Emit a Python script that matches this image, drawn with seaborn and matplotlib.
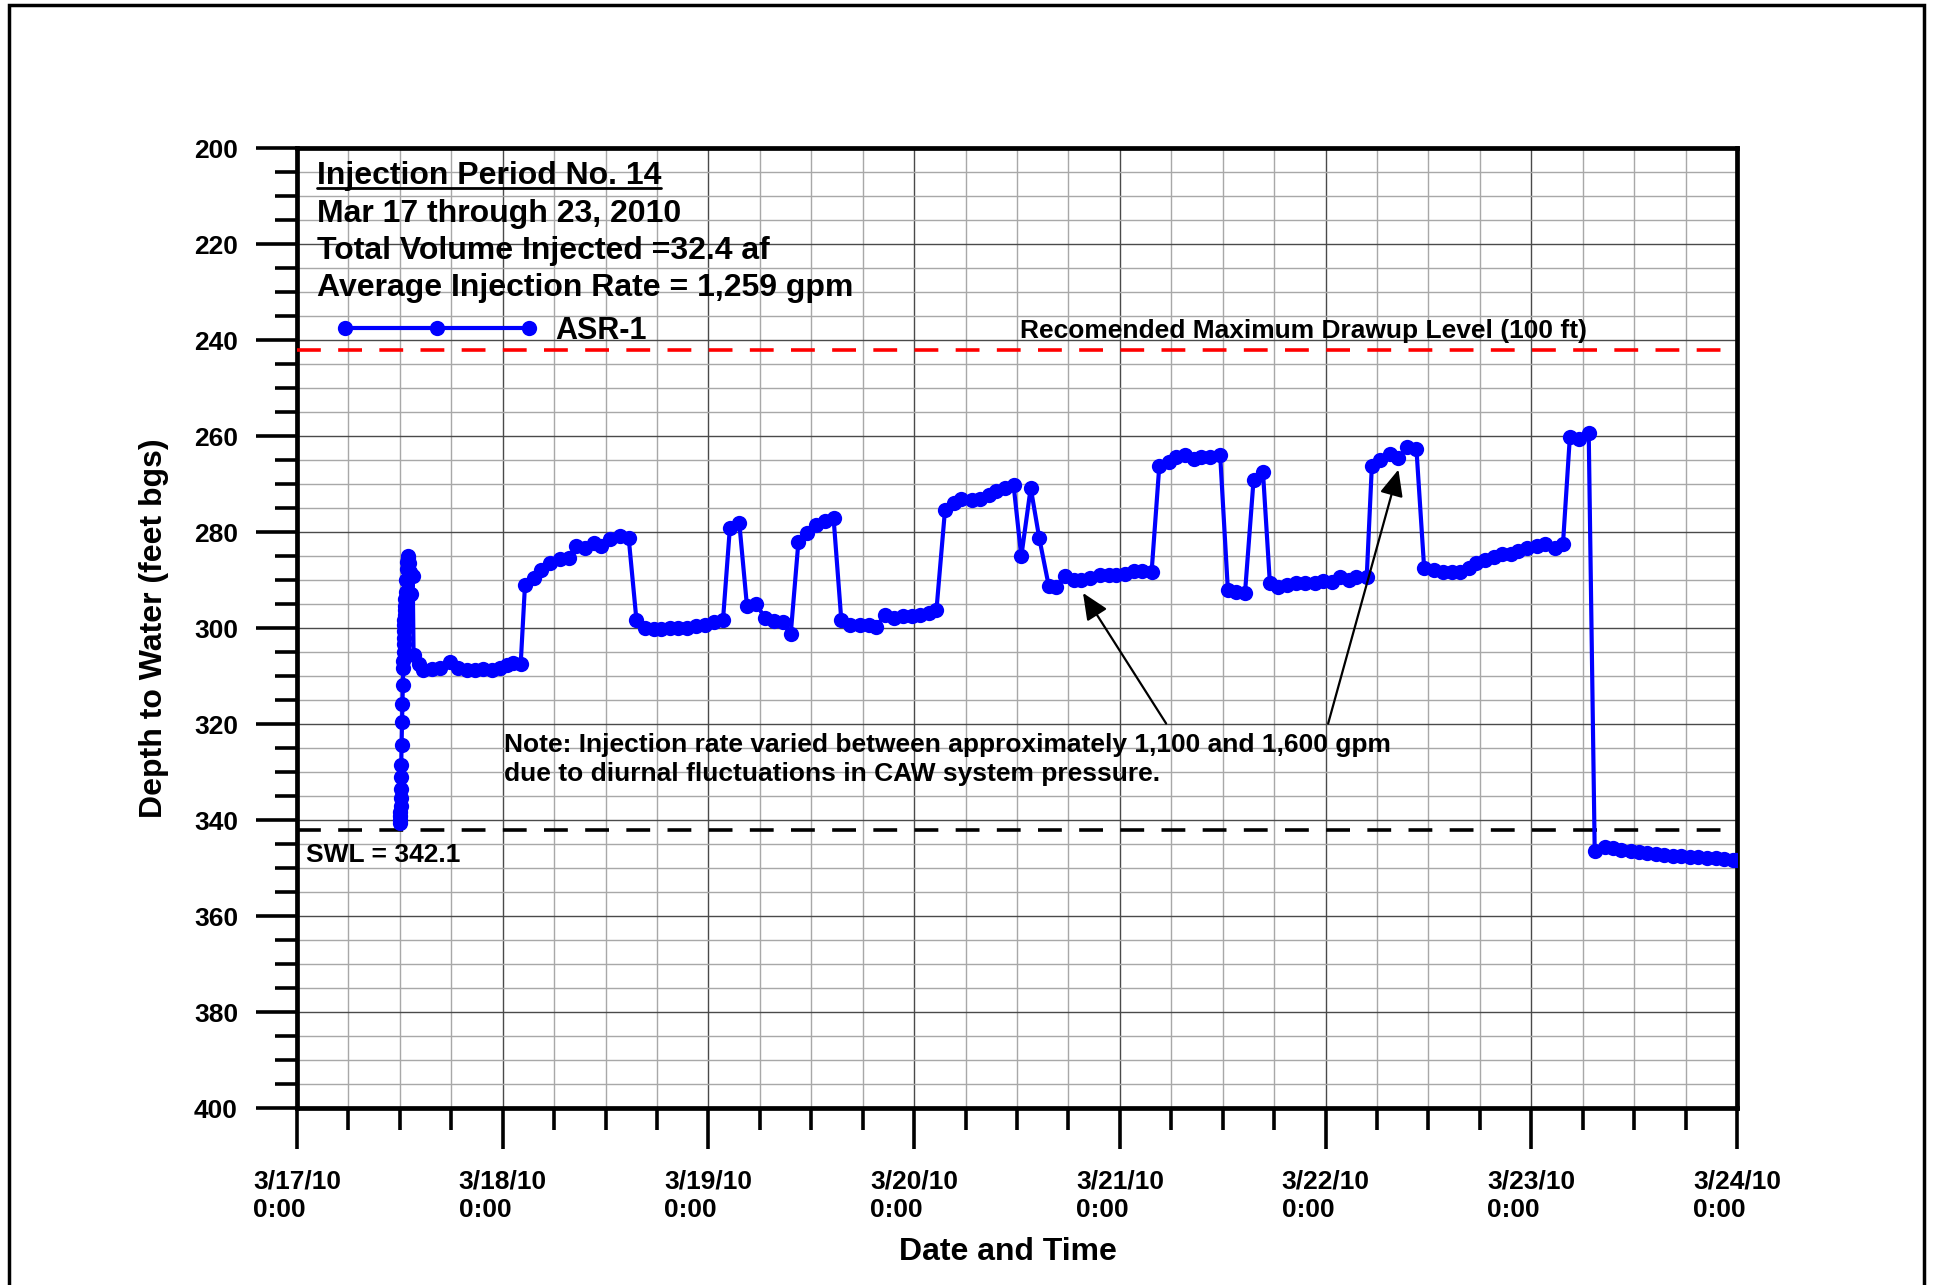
import pandas as pd
import matplotlib
matplotlib.use("Agg")
import matplotlib.pyplot as plt
import matplotlib.dates as mdates
from matplotlib.ticker import MultipleLocator
from matplotlib.lines import Line2D
from matplotlib.patches import Rectangle
import seaborn as sns

# ---------------------------------------------------------------- data
start = pd.Timestamp("2010-03-17 00:00")

# hours after 3/17/10 0:00, one list entry per logged reading
elapsed_hours = [
    12.00, 12.02, 12.04, 12.06, 12.08, 12.10, 12.12, 12.14, 12.16, 12.20,
    12.25, 12.30, 12.35, 12.40, 12.42, 12.44, 12.46, 12.48, 12.50, 12.52,
    12.54, 12.56, 12.58, 12.60, 12.65, 12.70, 12.75, 12.80, 12.85, 12.90,
    12.95, 13.05, 13.20, 13.35, 13.50, 13.60, 14.2,
    14.7, 15.7, 16.7, 17.9, 18.8, 19.8, 20.8, 21.7, 22.7, 23.7, 24.5, 25.2, 26.1,
    26.6, 27.6, 28.5, 29.5, 30.7, 31.7, 32.6, 33.6, 34.6, 35.5, 36.5, 37.7, 38.7,
    39.6, 40.6, 41.6, 42.5, 43.5, 44.5, 45.5, 46.6, 47.6, 48.6, 49.7,
    50.5, 51.6,
    52.5, 53.6, 54.6, 55.6, 56.7, 57.6,
    58.5, 59.5, 60.6, 61.6, 62.6,
    63.5, 64.5, 65.7, 66.7, 67.6, 68.6, 69.6, 70.7, 71.7, 72.7, 73.7, 74.6,
    75.6, 76.6, 77.5, 78.7, 79.7, 80.7, 81.6, 82.6, 83.6,
    84.5, 85.6, 86.6,
    87.7, 88.6, 89.6, 90.6, 91.5, 92.5, 93.7, 94.7, 95.6, 96.6, 97.6, 98.6, 99.7,
    100.6, 101.7, 102.6, 103.6, 104.6, 105.5, 106.5, 107.7,
    108.6, 109.6, 110.6,
    111.6, 112.7,
    113.5, 114.5, 115.5, 116.6, 117.6, 118.8, 119.7, 120.7, 121.7, 122.7, 123.6, 124.8,
    125.4, 126.4, 127.5, 128.5, 129.5, 130.6,
    131.5, 132.6, 133.7, 134.7, 135.7, 136.7, 137.6, 138.6, 139.6, 140.6, 141.6,
    142.5, 143.5, 144.7, 145.6, 146.8, 147.7,
    148.5, 149.6, 150.7,
    151.4, 152.6, 153.5, 154.5, 155.6, 156.6, 157.5, 158.5, 159.5, 160.5, 161.5,
    162.5, 163.5, 164.5, 165.5, 166.5, 167.5, 167.9,
]

# depth to water, feet below ground surface
depth_ft = [
    340.6, 340.0, 339.2, 338.3, 337.0, 335.5, 333.5, 331.0, 328.5, 324.3,
    319.5, 315.8, 311.8, 308.3, 306.8, 305.0, 303.4, 302.0, 300.6, 299.4,
    298.3, 297.3, 296.3, 295.5, 294.0, 292.5, 290.0, 287.8, 286.3, 285.4,
    285.1, 286.4, 288.3, 293.0, 289.2, 305.6, 307.6,
    308.7, 308.6, 308.3, 307.0, 308.3, 308.7, 308.7, 308.6, 308.7, 308.4, 307.8, 307.2, 307.4,
    291.0, 289.6, 287.9, 286.5, 285.6, 285.4, 283.0, 283.3, 282.2, 283.0, 281.5, 280.9, 281.3,
    298.3, 300.0, 300.3, 300.2, 300.0, 300.0, 299.9, 299.6, 299.3, 298.8, 298.3,
    279.2, 278.1,
    295.5, 295.1, 297.9, 298.5, 298.8, 301.3,
    282.0, 280.2, 278.5, 277.8, 277.1,
    298.3, 299.3, 299.4, 299.4, 299.7, 297.2, 297.9, 297.5, 297.6, 297.2, 296.9, 296.3,
    275.4, 274.0, 273.1, 273.3, 273.1, 272.2, 271.5, 270.8, 270.2,
    285.1, 270.8, 281.3,
    291.2, 291.4, 289.2, 290.1, 290.0, 289.5, 288.9, 289.0, 288.9, 288.8, 288.2, 288.1, 288.4,
    266.3, 265.5, 264.4, 263.9, 264.8, 264.3, 264.4, 263.9,
    292.0, 292.4, 292.7,
    269.1, 267.6,
    290.6, 291.4, 291.1, 290.7, 290.7, 290.6, 290.3, 290.5, 289.4, 289.9, 289.3, 289.4,
    266.2, 265.1, 263.7, 264.6, 262.3, 262.7,
    287.5, 288.0, 288.4, 288.4, 288.4, 287.5, 286.5, 285.8, 285.3, 284.5, 284.6,
    283.9, 283.4, 283.0, 282.6, 283.3, 282.4,
    260.2, 260.6, 259.4,
    346.5, 345.6, 345.9, 346.2, 346.5, 346.7, 346.9, 347.1, 347.2, 347.4, 347.5,
    347.7, 347.8, 347.9, 348.0, 348.1, 348.3, 348.4,
]

swl_depth = 342.1                       # static water level
max_drawup_depth = swl_depth - 100.0    # recommended maximum drawup (100 ft)

day_ticks = pd.date_range("2010-03-17", "2010-03-24", freq="D")
tick_labels = ["3/17/10\n0:00", "3/18/10\n0:00", "3/19/10\n0:00", "3/20/10\n0:00",
               "3/21/10\n0:00", "3/22/10\n0:00", "3/23/10\n0:00", "3/24/10\n0:00"]

info_lines = ["Injection Period No. 14",
              "Mar 17 through 23, 2010",
              "Total Volume Injected =32.4 af",
              "Average Injection Rate = 1,259 gpm"]
note_lines = ["Note: Injection rate varied between approximately 1,100 and 1,600 gpm",
              "due to diurnal fluctuations in CAW system pressure."]
# points the note arrows refer to (hours after start, depth) and where they leave the note
arrow_heads = [(91.7, 292.7), (128.5, 267.0)]
arrow_tails = [(101.4, 319.9), (120.3, 319.9)]

# ---------------------------------------------------------------- figure
sns.set_style("white")
plt.rcParams["font.family"] = ["Liberation Sans", "DejaVu Sans"]
plt.rcParams["font.weight"] = "bold"
plt.rcParams["axes.labelweight"] = "bold"
for key in ("text.color", "axes.labelcolor", "xtick.color", "ytick.color",
            "xtick.labelcolor", "ytick.labelcolor"):
    plt.rcParams[key] = "black"

W, H = 1934, 1285
fig = plt.figure(figsize=(W / 100, H / 100), dpi=100)


def fx(px):
    return px / W


def fy(py):
    return 1 - py / H


L, R, T, B = 297, 1737, 148, 1108
ax = fig.add_axes([fx(L), fy(B), fx(R) - fx(L), fy(T) - fy(B)])


def ax_x(px):
    return (px - L) / (R - L)


def ax_y(py):
    return (B - py) / (B - T)


df = pd.DataFrame({
    "time": start + pd.to_timedelta(elapsed_hours, unit="h"),
    "depth": depth_ft,
})

sns.lineplot(data=df, x="time", y="depth", ax=ax, color="#0000FF", linewidth=3.0,
             marker="o", markersize=11, markeredgecolor="#0000FF", markeredgewidth=0,
             estimator=None, sort=False, label="ASR-1", zorder=5)

dash = (0, (6.6, 4.8))
ax.axhline(max_drawup_depth, color="#FF0000", lw=2.6, ls=dash, zorder=3)
ax.axhline(swl_depth, color="black", lw=2.6, ls=dash, zorder=3)

# axes, ticks, grid
ax.set_ylim(400, 200)
day_nums = mdates.date2num(day_ticks.to_pydatetime())
ax.set_xlim(day_nums[0], day_nums[-1])
ax.set_xticks(day_nums, tick_labels)
ax.xaxis.set_minor_locator(mdates.HourLocator(byhour=[6, 12, 18]))
ax.yaxis.set_major_locator(MultipleLocator(20))
ax.yaxis.set_minor_locator(MultipleLocator(5))
plt.setp(ax.get_xticklabels(), multialignment="left")

ax.tick_params(which="major", length=29.5, width=2.6, direction="out",
               labelsize=19, colors="black")
ax.tick_params(axis="y", which="major", pad=13)
ax.tick_params(axis="x", which="major", pad=15)
ax.tick_params(which="minor", length=16, width=2.6, direction="out", colors="black")
ax.tick_params(left=True, bottom=True, which="both")

for s in ax.spines.values():
    s.set_linewidth(3.4)
    s.set_color("black")
    s.set_visible(True)

ax.grid(which="major", color="#4a4a4a", lw=1.0)
ax.grid(which="minor", color="#a8a8a8", lw=1.0)
ax.set_axisbelow(True)

ax.set_xlabel("Date and Time", fontsize=23, fontweight="bold", va="center")
ax.set_ylabel("Depth to Water (feet bgs)", fontsize=23, fontweight="bold", va="center")
ax.xaxis.set_label_coords(ax_x(1008), ax_y(1252))
ax.yaxis.set_label_coords(ax_x(154), 0.5)

# legend
ax.legend(loc="center left", bbox_to_anchor=(ax_x(336), ax_y(331)), frameon=False,
          numpoints=3, handlelength=6.6, handletextpad=0.56, borderpad=0,
          borderaxespad=0, prop=dict(size=22, weight="bold"))

# information block
info_baselines = [184, 222, 259, 296]
info_texts = []
for line, yb in zip(info_lines, info_baselines):
    info_texts.append(fig.text(fx(317), fy(yb), line, fontsize=23,
                               fontweight="bold", va="baseline", ha="left"))

fig.text(fx(1020), fy(338.5), "Recomended Maximum Drawup Level (100 ft)",
         fontsize=19, fontweight="bold", va="baseline")
fig.text(fx(306), fy(861.5), f"SWL = {swl_depth}", fontsize=19,
         fontweight="bold", va="baseline")
for line, yb in zip(note_lines, [752, 781]):
    fig.text(fx(504), fy(yb), line, fontsize=19, fontweight="bold", va="baseline")

for (hh, dh), (ht, dt) in zip(arrow_heads, arrow_tails):
    xh = mdates.date2num(start + pd.Timedelta(hours=hh))
    xt = mdates.date2num(start + pd.Timedelta(hours=ht))
    ax.annotate("", xy=(xh, dh), xytext=(xt, dt),
                arrowprops=dict(arrowstyle="-|>,head_length=0.45,head_width=0.2",
                                color="black", lw=1.6, mutation_scale=36,
                                shrinkA=0, shrinkB=0),
                zorder=6)

# underline the heading
fig.canvas.draw()
bb = info_texts[0].get_window_extent()
fig.add_artist(Line2D([bb.x0 / W, bb.x1 / W], [fy(187.5), fy(187.5)],
                      transform=fig.transFigure, color="black", lw=2.0))

# page frame
fig.add_artist(Rectangle((fx(9), -0.05), fx(1924) - fx(9), fy(5) + 0.05,
                         transform=fig.transFigure, fill=False, ec="black", lw=2.5))

fig.savefig("out.png", dpi=100, facecolor="white")
